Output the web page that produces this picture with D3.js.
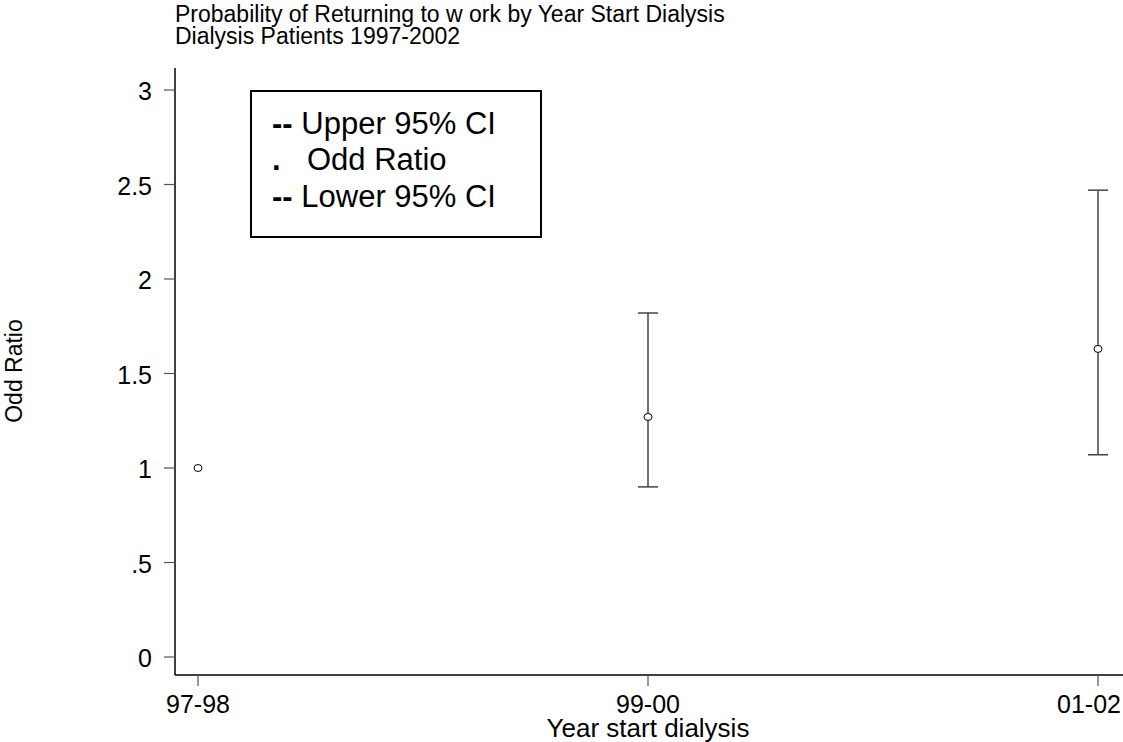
<!DOCTYPE html>
<html>
<head>
<meta charset="utf-8">
<script src="https://cdn.jsdelivr.net/npm/d3@7"></script>
<style>
  body { margin: 0; background: #fff; }
  svg text { font-family: Arial, "Liberation Sans", sans-serif; fill: #000; }
</style>
</head>
<body>
<svg width="1123" height="742"></svg>
<script>
// data
var years = ["97-98", "99-00", "01-02"];
var oddRatio = [1.0, 1.27, 1.63];
var upperCI = [null, 1.82, 2.47];
var lowerCI = [null, 0.90, 1.07];
var yTicks = [0, 0.5, 1, 1.5, 2, 2.5, 3];

var svg = d3.select("svg");
var W = 1123;

var x = d3.scalePoint().domain(years).range([198, 1098]);
var y = d3.scaleLinear().domain([0, 3]).range([657, 90]);

// titles
svg.append("text").attr("x", 175).attr("y", 22).attr("font-size", "23px")
  .text("Probability of Returning to w ork by Year Start Dialysis");
svg.append("text").attr("x", 175).attr("y", 44).attr("font-size", "23px")
  .text("Dialysis Patients 1997-2002");

// y axis
svg.append("line").attr("x1", 175).attr("x2", 175).attr("y1", 68).attr("y2", 675)
  .attr("stroke", "#000").attr("stroke-width", 1.5);
var yt = svg.append("g").selectAll("g").data(yTicks).enter().append("g");
yt.append("line").attr("x1", 164).attr("x2", 175)
  .attr("y1", function(d){ return y(d); }).attr("y2", function(d){ return y(d); })
  .attr("stroke", "#555").attr("stroke-width", 1.2);
yt.append("text").attr("x", 152).attr("y", function(d){ return y(d) + 10; })
  .attr("text-anchor", "end").attr("font-size", "25px")
  .text(function(d){ return d === 0.5 ? ".5" : d; });

// x axis
svg.append("line").attr("x1", 175).attr("x2", W).attr("y1", 675).attr("y2", 675)
  .attr("stroke", "#000").attr("stroke-width", 1.5);
var xt = svg.append("g").selectAll("g").data(years).enter().append("g");
xt.append("line").attr("y1", 675).attr("y2", 686)
  .attr("x1", function(d){ return x(d); }).attr("x2", function(d){ return x(d); })
  .attr("stroke", "#555").attr("stroke-width", 1.2);
xt.append("text").attr("y", 713).attr("x", function(d){ return x(d); })
  .attr("text-anchor", "middle").attr("font-size", "25px")
  .text(function(d){ return d; })
  .each(function(){
    // keep the last label inside the picture
    var b = this.getBBox();
    if (b.x + b.width > W - 2) {
      d3.select(this).attr("text-anchor", "end").attr("x", W - 2);
    }
  });

svg.append("text").attr("x", 648).attr("y", 737).attr("text-anchor", "middle")
  .attr("font-size", "26px").text("Year start dialysis");
svg.append("text").attr("transform", "translate(22,371) rotate(-90)")
  .attr("text-anchor", "middle").attr("font-size", "23px").text("Odd Ratio");

// error bars
var rows = years.map(function(d, i){
  return { year: d, or: oddRatio[i], up: upperCI[i], lo: lowerCI[i] };
});
var ci = rows.filter(function(d){ return d.up !== null; });
var eb = svg.append("g").selectAll("g").data(ci).enter().append("g")
  .attr("stroke", "#444").attr("stroke-width", 1.5);
eb.append("line").attr("x1", function(d){ return x(d.year); }).attr("x2", function(d){ return x(d.year); })
  .attr("y1", function(d){ return y(d.up); }).attr("y2", function(d){ return y(d.lo); });
eb.append("line").attr("x1", function(d){ return x(d.year) - 10; }).attr("x2", function(d){ return x(d.year) + 10; })
  .attr("y1", function(d){ return y(d.up); }).attr("y2", function(d){ return y(d.up); });
eb.append("line").attr("x1", function(d){ return x(d.year) - 10; }).attr("x2", function(d){ return x(d.year) + 10; })
  .attr("y1", function(d){ return y(d.lo); }).attr("y2", function(d){ return y(d.lo); });

svg.append("g").selectAll("ellipse").data(rows).enter().append("ellipse")
  .attr("cx", function(d){ return x(d.year); }).attr("cy", function(d){ return y(d.or); })
  .attr("rx", 4).attr("ry", 3.5).attr("fill", "#fff").attr("stroke", "#000").attr("stroke-width", 1);

// legend
var lg = svg.append("g");
lg.append("rect").attr("x", 251).attr("y", 91).attr("width", 290).attr("height", 146)
  .attr("fill", "#fff").attr("stroke", "#000").attr("stroke-width", 2);
lg.append("text").attr("x", 272).attr("y", 134).attr("font-size", "31px")
  .html('<tspan font-weight="bold">--</tspan> Upper 95% CI');
lg.append("text").attr("x", 272).attr("y", 170).attr("font-size", "31px")
  .html('<tspan font-weight="bold">.</tspan><tspan x="307">Odd Ratio</tspan>');
lg.append("text").attr("x", 272).attr("y", 207).attr("font-size", "31px")
  .html('<tspan font-weight="bold">--</tspan> Lower 95% CI');
</script>
</body>
</html>
